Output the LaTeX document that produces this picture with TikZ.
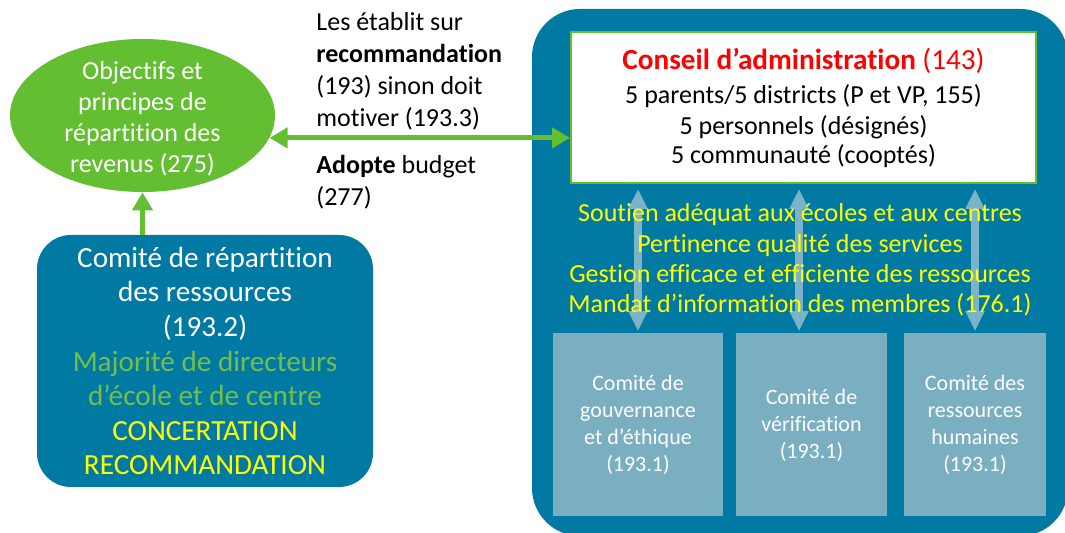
\documentclass[tikz,border=0pt]{standalone}
\usepackage{fontspec}
\setmainfont{Carlito}[Ligatures=NoCommon]
\usetikzlibrary{arrows.meta, calc, shapes.geometric}

\definecolor{bleu}{RGB}{0,122,163}
\definecolor{bleuclair}{RGB}{122,175,194}
\definecolor{fleche}{RGB}{125,179,200}
\definecolor{vert}{RGB}{99,190,50}
\definecolor{vertpale}{RGB}{118,190,72}
\definecolor{jaune}{RGB}{255,255,0}

\begin{document}
\begin{tikzpicture}[x=0.5pt, y=-0.5pt, >={Triangle[width=10pt,length=9pt]},
  boite/.style={fill=bleu, inner sep=0pt, text=white, align=center},
  comite/.style={fill=bleuclair, inner sep=0pt, text=white, align=center,
    minimum height=91.5pt, font=\fontsize{11}{13.5}\selectfont},
  lien/.style={draw=fleche, line width=4pt,
    {Triangle[width=9pt,length=10pt]}-{Triangle[width=9pt,length=10pt]}},
  vfl/.style={draw=vert, line width=2.5pt}]
  \useasboundingbox (0,0) rectangle (1065,533);
  \clip (0,0) rectangle (1065,533);

  \node [boite, rounded corners=24pt, minimum width=268pt, minimum height=263.5pt] (cs) at (800,272.5) {};
  \node [fill=white, draw=vert, line width=1pt, inner sep=0pt, align=center,
    minimum width=232.5pt, minimum height=75.5pt, font=\fontsize{13}{15.5}\selectfont] (conseil) at (803.5,107.5)
    {{\fontsize{14.6}{16}\selectfont\color{red}\textbf{Conseil d’administration} (143)}\\[1.5pt]
     5 parents/5 districts (P et VP, 155)\\
     5 personnels (désignés)\\[-1pt]
     5 communauté (cooptés)};

  \node [comite, minimum width=85pt] (gov) at (638,425) {Comité de\\gouvernance\\et d’éthique\\(193.1)};
  \node [comite, minimum width=75.5pt] (ver) at (811.5,425) {Comité de\\vérification\\(193.1)};
  \node [comite, minimum width=71pt] (rh) at (975,425) {Comité des\\ressources\\humaines\\(193.1)};

  \coordinate (p2) at ($(ver.north)+(-12.5,0)$);
  \draw [lien, shorten <=2.5pt, shorten >=1pt] (gov.north |- conseil.south) -- (gov.north);
  \draw [lien, shorten <=2.5pt, shorten >=1pt] (p2 |- conseil.south) -- (p2);
  \draw [lien, shorten <=2.5pt, shorten >=1pt] (rh.north |- conseil.south) -- (rh.north);

  \node [text=jaune, align=center, font=\fontsize{13}{15.2}\selectfont] (mandat) at (800,260)
    {Soutien adéquat aux écoles et aux centres\\Pertinence qualité des services\\
     Gestion efficace et efficiente des ressources\\Mandat d’information des membres (176.1)};

  \node [ellipse, fill=vert, inner sep=0pt, minimum width=132.5pt, minimum height=76.5pt] (obj) at (142.5,115.5) {};
  \node [text=white, align=center, font=\fontsize{13}{15.5}\selectfont] (objtxt) at (142.5,119)
    {Objectifs et\\principes de\\répartition des\\revenus (275)};

  \node [boite, rounded corners=17pt, minimum width=168pt, minimum height=126pt,
    font=\fontsize{14.6}{17.3}\selectfont] (repart) at (205,361)
    {Comité de répartition\\des ressources\\(193.2)\\
     \textcolor{vertpale}{Majorité de directeurs}\\\textcolor{vertpale}{d’école et de centre}\\
     \textcolor{jaune}{CONCERTATION}\\\textcolor{jaune}{RECOMMANDATION}};

  \draw [vfl, ->] (obj.south |- repart.north) -- (obj.south);
  \draw [vfl, <->] (obj.-10.5) -- (obj.-10.5 -| conseil.west);

  \node [anchor=north west, inner sep=0pt, align=left, font=\fontsize{13}{16}\selectfont] (etablit) at (316,12)
    {Les établit sur\\\textbf{recommandation}\\(193) sinon doit\\motiver (193.3)};
  \node [anchor=north west, inner sep=0pt, align=left, font=\fontsize{13}{16}\selectfont] (adopte) at (316,155)
    {\textbf{Adopte} budget\\(277)};
\end{tikzpicture}
\end{document}
